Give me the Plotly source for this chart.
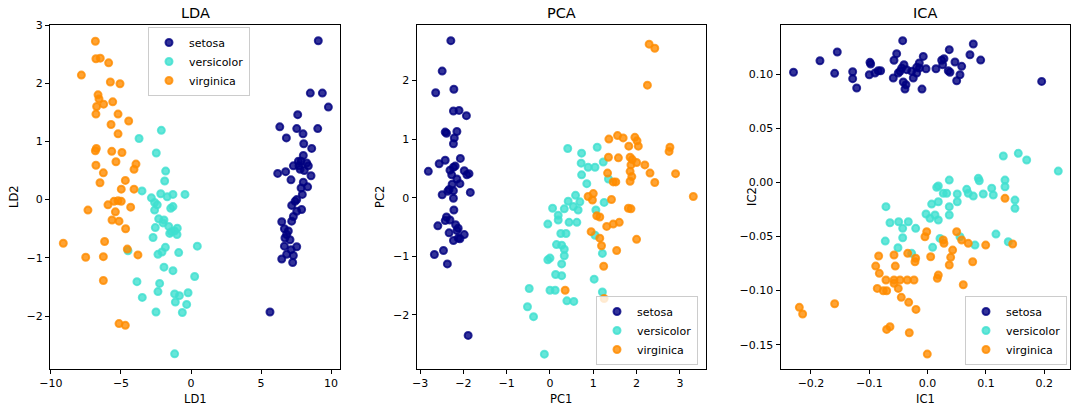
import plotly.graph_objects as go

# ---------------- data ----------------
classes = ["setosa", "versicolor", "virginica"]

lda_setosa_x = [9.09, 8.52, 9.38, 9.81, 7.62, 6.34, 7.55, 8.0, 9.05, 6.81, 8.05, 8.62, 8.02, 7.86, 8.26, 7.31, 7.71, 8.38,
                6.19, 6.76, 8.09, 8.57, 7.14, 8.02, 8.33, 7.86, 7.95, 7.55, 7.19, 7.9, 7.55, 7.31, 7.19, 6.48, 6.67, 6.83,
                6.71, 7.07, 7.55, 6.67, 7.14, 6.83, 7.31, 6.48, 7.26, 5.64, 7.67, 7.43, 6.95, 7.79]
lda_setosa_y = [2.73, 1.83, 1.83, 1.59, 1.46, 1.25, 1.22, 1.13, 1.22, 1.06, 0.96, 0.88, 0.76, 0.66, 0.63, 0.58, 0.58, 0.58,
                0.45, 0.48, 0.50, 0.41, 0.34, 0.30, 0.22, 0.20, 0.09, 0.0, -0.10, -0.17, -0.20, -0.29, -0.37, -0.38, -0.50, -0.60,
                -0.66, -0.69, -0.81, -0.80, -0.86, -0.94, -0.96, -1.02, -1.08, -1.93, 0.66, -0.03, -0.54, 0.52]
lda_versicolor_x = [-3.71, -2.12, -2.48, -1.81, -1.88, -3.5, -2.83, -2.16, -1.29, -0.43, -2.6, -2.41, -1.45, -1.29, -2.31, -1.93,
                    -2.55, -1.59, -0.98, -1.52, -1.17, -2.71, -1.83, -2.36, -2.07, -0.88, 0.45, -4.5, -1.93, -1.29, 0.26, -3.86,
                    -2.24, -2.36, -3.48, -1.17, -0.21, -0.83, -1.12, -0.31, -2.5, -0.62, -1.17, -2.0, -1.4, -2.6, -1.7, -1.0]
lda_versicolor_y = [1.05, 1.19, 0.80, 0.49, 0.32, 0.15, 0.03, 0.10, 0.09, 0.09, -0.18, -0.09, -0.15, -0.12, -0.33, -0.35,
                    -0.48, -0.46, -0.49, -0.58, -0.54, -0.65, -0.82, -0.94, -0.90, -0.91, -0.80, -0.88, -1.16, -1.22, -1.32, -1.41,
                    -1.44, -1.58, -1.68, -1.62, -1.60, -1.65, -1.76, -1.80, -1.93, -1.94, -2.65, -0.40, -0.55, -0.05, 0.05, -0.60]
lda_virginica_x = [-6.83, -6.79, -6.48, -5.88, -7.83, -5.76, -5.07, -6.64, -6.57, -6.74, -6.24, -5.59, -5.21, -6.79, -4.45, -5.71,
                   -5.21, -6.83, -6.76, -5.66, -4.93, -5.36, -6.79, -6.26, -3.93, -4.07, -6.5, -4.69, -4.98, -4.07, -5.93, -5.5,
                   -5.21, -4.98, -5.4, -7.36, -4.31, -5.64, -5.14, -4.67, -6.17, -9.12, -4.55, -3.79, -7.52, -6.26, -6.26, -5.14, -4.69]
lda_virginica_y = [2.72, 2.42, 2.43, 2.35, 2.14, 2.02, 1.99, 1.80, 1.73, 1.60, 1.64, 1.68, 1.47, 1.47, 1.35, 1.29,
                   1.13, 0.84, 0.88, 0.83, 0.81, 0.65, 0.59, 0.46, 0.61, 0.52, 0.29, 0.33, 0.18, 0.18, -0.09, -0.03,
                   -0.02, -0.03, -0.21, -0.18, -0.13, -0.35, -0.37, -0.50, -0.72, -0.75, -0.85, -0.95, -0.99, -0.98, -1.39, -2.13, -2.16]

pca_setosa_x = [-2.29, -2.49, -2.64, -2.22, -2.23, -2.1, -1.93, -2.42, -2.39, -2.15, -2.21, -2.23, -2.07, -2.42, -2.56, -2.81,
                -2.31, -2.23, -2.19, -1.98, -1.87, -1.92, -2.27, -2.15, -2.08, -2.26, -2.33, -2.49, -2.36, -2.23, -1.84, -2.23,
                -2.22, -2.39, -2.42, -2.31, -2.59, -2.18, -2.12, -2.15, -2.33, -1.98, -2.12, -2.23, -2.08, -2.46, -2.67, -2.37, -1.89]
pca_setosa_y = [2.68, 2.16, 1.79, 1.85, 1.48, 1.49, 1.40, 1.12, 1.10, 1.13, 1.02, 0.92, 0.67, 0.64, 0.58, 0.45,
                0.47, 0.52, 0.54, 0.46, 0.41, 0.39, 0.39, 0.32, 0.24, 0.23, 0.14, 0.05, 0.11, 0.12, 0.09, -0.01,
                -0.21, -0.33, -0.39, -0.38, -0.48, -0.46, -0.52, -0.56, -0.60, -0.63, -0.69, -0.73, -0.70, -0.90, -0.97, -1.13, -2.35]
pca_versicolor_x = [0.41, 0.73, 1.09, 0.72, 0.88, 1.04, 1.23, 0.73, 0.85, 1.35, 0.59, 0.42, 0.69, 1.25, 0.06, 0.33,
                    0.54, 0.65, 1.06, 0.19, 0.19, -0.05, 0.44, 0.62, 0.25, 0.37, 1.04, 0.15, 0.27, 0.33, 1.21, -0.05,
                    0.0, 0.33, 0.27, 0.13, 0.27, 1.02, -0.48, 0.0, 0.12, 1.21, 0.39, 0.55, -0.52, -0.38, -0.13]
pca_versicolor_y = [0.84, 0.76, 0.86, 0.59, 0.52, 0.52, 0.61, 0.39, 0.24, 0.32, 0.04, -0.06, -0.07, -0.08, -0.18, -0.19,
                    -0.15, -0.21, -0.21, -0.30, -0.38, -0.45, -0.42, -0.42, -0.61, -0.61, -0.64, -0.80, -0.81, -0.88, -0.95, -1.06,
                    -1.03, -0.99, -1.13, -1.31, -1.33, -1.39, -1.55, -1.58, -1.58, -1.61, -1.76, -1.77, -1.86, -2.03, -2.67]
pca_virginica_x = [2.29, 2.42, 2.25, 1.36, 1.56, 1.69, 1.96, 2.01, 1.82, 2.04, 2.77, 2.75, 1.35, 1.58, 1.85, 1.9,
                   1.87, 2.0, 2.19, 1.33, 1.85, 1.89, 2.31, 2.9, 1.46, 1.52, 1.85, 2.42, 3.31, 1.0, 0.88, 1.42,
                   0.98, 1.81, 1.87, 1.08, 1.15, 1.31, 1.46, 1.6, 0.95, 1.15, 2.0, 1.19, 1.54, 1.24, 0.35, 1.25]
pca_virginica_y = [2.62, 2.55, 1.92, 1.0, 1.06, 1.02, 1.03, 0.97, 0.88, 0.88, 0.86, 0.79, 0.69, 0.68, 0.69, 0.65,
                   0.56, 0.60, 0.56, 0.42, 0.45, 0.36, 0.42, 0.41, 0.27, 0.27, 0.28, 0.26, 0.02, 0.07, 0.02, -0.03,
                   -0.04, -0.18, -0.19, -0.31, -0.33, -0.49, -0.45, -0.42, -0.58, -0.69, -0.71, -0.82, -0.90, -1.17, -1.58, -1.72]

ica_setosa_x = [-0.230, -0.1846, -0.1549, -0.1594, -0.1285, -0.1285, -0.1216, -0.0988, -0.0976, -0.1, -0.0902, -0.0846, -0.0805,
                -0.0576, -0.053, -0.0427, -0.0588, -0.0473, -0.0444, -0.0405, -0.0503, -0.0417, -0.037, -0.0388, -0.0245,
                -0.0273, -0.0187, -0.0142, -0.0074, -0.0027, -0.0096, 0.0144, 0.0242, 0.0281, 0.0259, 0.0372, 0.0355, 0.0384,
                0.047, 0.0499, 0.0556, 0.0585, 0.0727, 0.0784, 0.0911, 0.1957, -0.0142, -0.0187, -0.0359]
ica_setosa_y = [0.1017, 0.1124, 0.1204, 0.1007, 0.1022, 0.0958, 0.0872, 0.1109, 0.1093, 0.0994, 0.101, 0.1031, 0.1031,
                0.1128, 0.1189, 0.1309, 0.0964, 0.1026, 0.1056, 0.1087, 0.101, 0.0927, 0.0902, 0.0862, 0.0964,
                0.1026, 0.1063, 0.1103, 0.1164, 0.105, 0.0862, 0.105, 0.1128, 0.1142, 0.1087, 0.1226, 0.1031, 0.1017,
                0.1112, 0.0939, 0.0994, 0.1072, 0.1179, 0.1278, 0.1130, 0.0933, 0.1056, 0.101, 0.1041]
ica_versicolor_x = [-0.0714, -0.0645, -0.0496, -0.0331, -0.0427, -0.0204, -0.0726, -0.0427, -0.0508, -0.0273,
                    0.1299, 0.1556, 0.17, 0.2242, 0.0372, 0.0184, 0.0156, 0.0269, 0.0328, 0.0509, 0.0509, 0.0671, 0.0698,
                    0.0784, 0.087, 0.0887, 0.0955, 0.11, 0.1127, 0.1328, 0.1328, 0.1499, 0.1499, 0.007, 0.0184, -0.0027,
                    0.0041, 0.0127, 0.0184, 0.0372, 0.0372, 0.0213, 0.0087, 0.0556, 0.0813, 0.1173, 0.1384]
ica_versicolor_y = [-0.0225, -0.0373, -0.0364, -0.0364, -0.0425, -0.0425, -0.0543, -0.0512, -0.0604, -0.0656,
                    0.0243, 0.0268, 0.0206, 0.0104, 0.0021, -0.0034, -0.0046, -0.0102, -0.0102, -0.0108, -0.0179, -0.0065, -0.0102,
                    -0.0127, 0.0037, 0.0015, -0.0108, -0.0055, -0.0117, 0.0021, -0.0041, -0.0164, -0.024, -0.0201, -0.0179, -0.0293,
                    -0.0333, -0.0302, -0.0348, -0.0225, -0.0302, -0.0518, -0.0601, -0.0503, -0.058, -0.0478, -0.0549]
ica_virginica_x = [-0.0839, -0.0576, -0.0341, -0.0204, -0.0216, -0.089, -0.0554, -0.0828, -0.0714, -0.0576, -0.0473, -0.0348,
                   -0.0233, -0.0863, -0.076, -0.0702, -0.0576, -0.0503, -0.0451, -0.0324, -0.0199, -0.22, -0.2143, -0.1594,
                   -0.0702, -0.0645, -0.0314, -0.0005, 0.1328, -0.0015, -0.0045, 0.0499, 0.0269, 0.0281, 0.0585, 0.0698,
                   0.0997, 0.146, 0.043, 0.0396, 0.0372, 0.0053, 0.0774, 0.0184, 0.0167, 0.0612]
ica_virginica_y = [-0.0681, -0.0672, -0.0656, -0.0702, -0.0734, -0.0774, -0.0774, -0.0841, -0.0903, -0.0903, -0.0903, -0.0903,
                   -0.0903, -0.098, -0.1002, -0.1002, -0.0933, -0.098, -0.1063, -0.1109, -0.1174, -0.1155, -0.1217, -0.1122,
                   -0.1359, -0.1335, -0.139, -0.1587, -0.0148, -0.0457, -0.0503, -0.0457, -0.0533, -0.0564, -0.0533, -0.0564,
                   -0.058, -0.057, -0.0626, -0.0693, -0.0764, -0.0688, -0.0734, -0.0857, -0.0887, -0.0946]

panel_titles = ["LDA", "PCA", "ICA"]
x_titles = ["LD1", "PC1", "IC1"]
y_titles = ["LD2", "PC2", "IC2"]

lda_xticks = [-10, -5, 0, 5, 10]
lda_xticklabels = ["−10", "−5", "0", "5", "10"]
lda_yticks = [-2, -1, 0, 1, 2, 3]
lda_yticklabels = ["−2", "−1", "0", "1", "2", "3"]
pca_xticks = [-3, -2, -1, 0, 1, 2, 3]
pca_xticklabels = ["−3", "−2", "−1", "0", "1", "2", "3"]
pca_yticks = [-2, -1, 0, 1, 2]
pca_yticklabels = ["−2", "−1", "0", "1", "2"]
ica_xticks = [-0.2, -0.1, 0.0, 0.1, 0.2]
ica_xticklabels = ["−0.2", "−0.1", "0.0", "0.1", "0.2"]
ica_yticks = [-0.15, -0.10, -0.05, 0.0, 0.05, 0.10]
ica_yticklabels = ["−0.15", "−0.10", "−0.05", "0.00", "0.05", "0.10"]

# ---------------- styling ----------------
W, H = 1080, 413
FONT = "DejaVu Sans"
colors = {"setosa": (0, 0, 128), "versicolor": (64, 224, 208), "virginica": (255, 140, 0)}

def px_x(a, b):
    return [a / W, b / W]

y_dom = [1 - 369 / H, 1 - 25 / H]
x_doms = [px_x(50, 340), px_x(416.5, 706), px_x(780.5, 1070)]
x_ranges = [[-10.07, 10.64], [-3.083, 3.603], [-0.2523, 0.2443]]
y_ranges = [[-2.91, 3.0], [-2.923, 2.947], [-0.1725, 0.1454]]

panels = [
    [(lda_setosa_x, lda_setosa_y), (lda_versicolor_x, lda_versicolor_y), (lda_virginica_x, lda_virginica_y)],
    [(pca_setosa_x, pca_setosa_y), (pca_versicolor_x, pca_versicolor_y), (pca_virginica_x, pca_virginica_y)],
    [(ica_setosa_x, ica_setosa_y), (ica_versicolor_x, ica_versicolor_y), (ica_virginica_x, ica_virginica_y)],
]
ticks = [
    (lda_xticks, lda_xticklabels, lda_yticks, lda_yticklabels),
    (pca_xticks, pca_xticklabels, pca_yticks, pca_yticklabels),
    (ica_xticks, ica_xticklabels, ica_yticks, ica_yticklabels),
]
legend_names = ["legend", "legend2", "legend3"]

fig = go.Figure()
for p, data in enumerate(panels):
    suffix = "" if p == 0 else str(p + 1)
    for cname, (xs, ys) in zip(classes, data):
        r, g, b = colors[cname]
        fig.add_trace(go.Scatter(
            x=xs, y=ys, mode="markers", name=cname,
            xaxis="x" + suffix, yaxis="y" + suffix,
            legend=legend_names[p],
            marker=dict(size=7, color=f"rgba({r},{g},{b},0.8)",
                        line=dict(width=2, color=f"rgba({r},{g},{b},0.8)")),
        ))

layout = dict(
    width=W, height=H,
    margin=dict(l=0, r=0, t=0, b=0, autoexpand=False),
    paper_bgcolor="white", plot_bgcolor="white",
    font=dict(family=FONT, size=11, color="black"),
    showlegend=True,
)

axis_common = dict(showline=True, mirror=True, linecolor="black", linewidth=1,
                   ticks="outside", ticklen=4, tickwidth=1, tickcolor="black",
                   showgrid=False, zeroline=False, automargin=False,
                   tickfont=dict(family=FONT, size=11, color="black"))

annotations = []
for p in range(3):
    suffix = "" if p == 0 else str(p + 1)
    xt, xl, yt, yl = ticks[p]
    layout["xaxis" + suffix] = dict(domain=x_doms[p], range=x_ranges[p], anchor="y" + suffix,
                                    tickmode="array", tickvals=xt, ticktext=xl, **axis_common)
    layout["yaxis" + suffix] = dict(domain=y_dom, range=y_ranges[p], anchor="x" + suffix,
                                    tickmode="array", tickvals=yt, ticktext=yl, **axis_common)
    xc = (x_doms[p][0] + x_doms[p][1]) / 2
    annotations.append(dict(text=panel_titles[p], x=xc, y=1 - 13 / H, xref="paper", yref="paper",
                            xanchor="center", yanchor="middle", showarrow=False,
                            font=dict(family=FONT, size=14.5, color="black")))
    annotations.append(dict(text=x_titles[p], x=xc, y=1 - 399 / H, xref="paper", yref="paper",
                            xanchor="center", yanchor="middle", showarrow=False,
                            font=dict(family=FONT, size=11.5, color="black")))
ylab_x = [14, 380, 752]
for p in range(3):
    annotations.append(dict(text=y_titles[p], x=ylab_x[p] / W, y=(y_dom[0] + y_dom[1]) / 2,
                            xref="paper", yref="paper", xanchor="center", yanchor="middle",
                            textangle=-90, showarrow=False,
                            font=dict(family=FONT, size=11.5, color="black")))
layout["annotations"] = annotations

legend_common = dict(bgcolor="rgba(255,255,255,0.8)", bordercolor="#cccccc", borderwidth=1,
                     font=dict(family=FONT, size=11, color="black"), tracegroupgap=0,
                     itemwidth=30)
layout["legend"] = dict(x=148 / W, y=1 - 27 / H, xanchor="left", yanchor="top", **legend_common)
layout["legend2"] = dict(x=596 / W, y=1 - 365 / H, xanchor="left", yanchor="bottom", **legend_common)
layout["legend3"] = dict(x=965 / W, y=1 - 365 / H, xanchor="left", yanchor="bottom", **legend_common)

fig.update_layout(**layout)
fig.write_html("out.html", config={"displayModeBar": False},
               post_script="document.body.style.margin='0';document.body.style.overflow='hidden';")
